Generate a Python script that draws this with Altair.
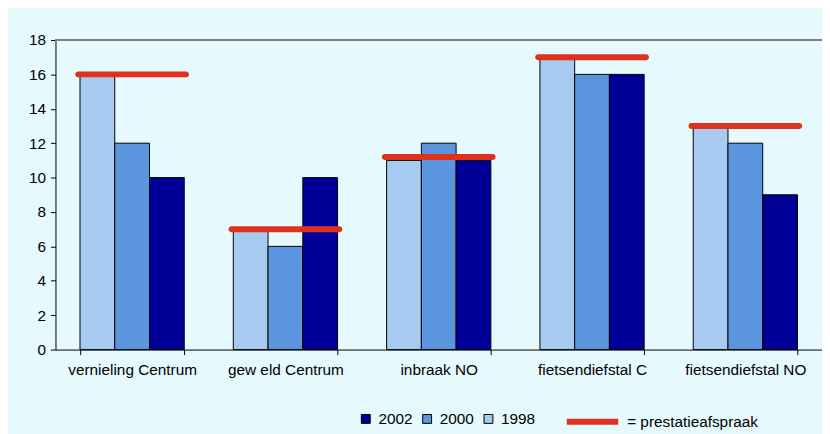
import altair as alt
import pandas as pd

categories = ["vernieling Centrum", "gew eld Centrum", "inbraak NO", "fietsendiefstal C", "fietsendiefstal NO"]
years = ["1998", "2000", "2002"]
v1998 = [16, 7, 11, 17, 13]
v2000 = [12, 6, 12, 16, 12]
v2002 = [10, 10, 11, 16, 9]
target = [16, 7, 11.2, 17, 13]
y_ticks = [0, 2, 4, 6, 8, 10, 12, 14, 16, 18]
legend_years = ["2002", "2000", "1998"]
year_colors = ["#000099", "#5B95DE", "#A6CAF0"]
target_label = "= prestatieafspraak"

rows = []
for i, c in enumerate(categories):
    for yr, vals in zip(years, [v1998, v2000, v2002]):
        rows.append({"cat": c, "year": yr, "value": vals[i]})
df = pd.DataFrame(rows)
tdf = pd.DataFrame({"cat": categories, "target": target, "label": [target_label] * len(categories)})

FONT = "Liberation Sans"
FS = 15.5
xscale = alt.Scale(domain=categories, paddingInner=0.32, paddingOuter=0.16)
yscale = alt.Scale(domain=[0, 18], nice=False)

def yaxis():
    return alt.Axis(title=None, values=y_ticks, grid=False, labelPadding=5, labelFontSize=FS,
                    domainColor="black", tickColor="black", tickSize=5, labelOverlap=False)

def xaxis():
    return alt.Axis(title=None, labelAngle=0, tickBand="extent", labelPadding=8,
                    labelFontSize=FS, domainColor="black", tickColor="black", tickSize=5,
                    labelOverlap=False)

bars = alt.Chart(df).mark_bar(stroke="black", strokeWidth=1).encode(
    x=alt.X("cat:N", scale=xscale, sort=categories, axis=xaxis(), title=None),
    xOffset=alt.XOffset("year:N", sort=years, scale=alt.Scale(paddingInner=0, paddingOuter=0)),
    y=alt.Y("value:Q", scale=yscale, axis=yaxis(), title=None),
    color=alt.Color("year:N", scale=alt.Scale(domain=legend_years, range=year_colors),
                    legend=alt.Legend(orient="none", legendX=306, legendY=375, direction="horizontal",
                                      title=None, symbolType="square", symbolSize=81,
                                      symbolStrokeColor="black", symbolStrokeWidth=1,
                                      labelFontSize=FS, labelFont=FONT, columnPadding=7,
                                      labelOffset=5)),
)

lines = alt.Chart(tdf).mark_tick(thickness=6, size=115, cornerRadius=3, opacity=1).encode(
    x=alt.X("cat:N", scale=xscale, sort=categories, axis=xaxis(), title=None),
    y=alt.Y("target:Q", scale=yscale, axis=yaxis(), title=None),
    color=alt.Color("label:N", scale=alt.Scale(domain=[target_label], range=["#E0301E"]),
                    legend=alt.Legend(orient="none", legendX=514, legendY=357, title=None,
                                      symbolType="stroke", symbolSize=2704, symbolStrokeWidth=6,
                                      symbolStrokeColor="#E0301E", labelFontSize=FS,
                                      labelFont=FONT, labelOffset=6)),
)

topline = alt.Chart(tdf).mark_rule(color="#808080", strokeWidth=2).encode(
    y=alt.Y("top:Q", scale=yscale, axis=yaxis(), title=None)
).transform_calculate(top="18")

chart = alt.layer(bars, lines, topline).resolve_scale(color="independent").properties(
    width=775, height=313,
    autosize=alt.AutoSizeParams(type="none"),
    padding={"left": 48, "top": 30, "right": 0, "bottom": 83},
    background="#E6F9FC",
).configure_view(stroke=None).configure_axis(
    labelFont=FONT, labelColor="black"
)

chart.save("out.html", embed_options={"renderer": "svg", "actions": False})
